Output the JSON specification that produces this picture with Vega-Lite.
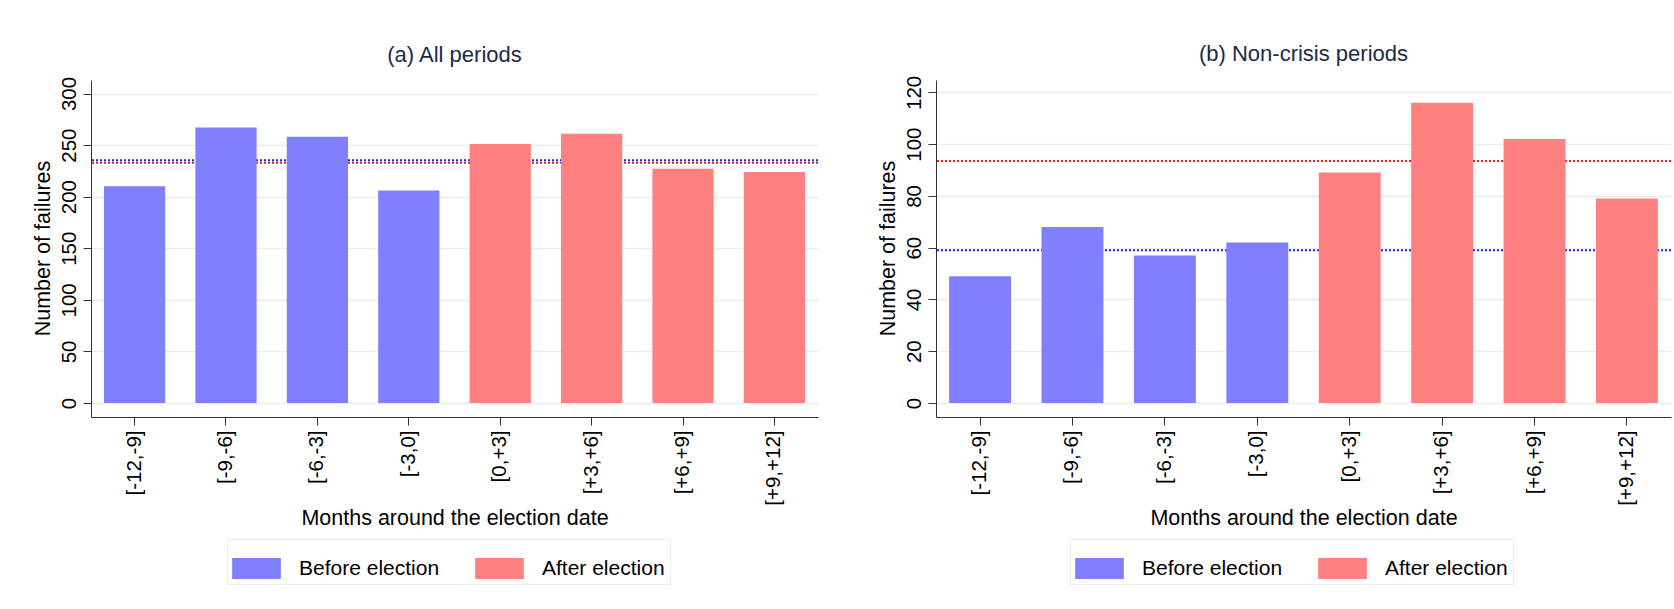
{
  "$schema": "https://vega.github.io/schema/vega-lite/v6.json",
  "padding": {"left": 32, "top": 43, "right": 2, "bottom": 5},
  "background": "white",
  "datasets": {
    "a": [
      {"bin": "[-12,-9]", "n": 210, "period": "Before election"},
      {"bin": "[-9,-6]", "n": 267, "period": "Before election"},
      {"bin": "[-6,-3]", "n": 258, "period": "Before election"},
      {"bin": "[-3,0]", "n": 206, "period": "Before election"},
      {"bin": "[0,+3]", "n": 251, "period": "After election"},
      {"bin": "[+3,+6]", "n": 261, "period": "After election"},
      {"bin": "[+6,+9]", "n": 227, "period": "After election"},
      {"bin": "[+9,+12]", "n": 224, "period": "After election"}
    ],
    "b": [
      {"bin": "[-12,-9]", "n": 49, "period": "Before election"},
      {"bin": "[-9,-6]", "n": 68, "period": "Before election"},
      {"bin": "[-6,-3]", "n": 57, "period": "Before election"},
      {"bin": "[-3,0]", "n": 62, "period": "Before election"},
      {"bin": "[0,+3]", "n": 89, "period": "After election"},
      {"bin": "[+3,+6]", "n": 116, "period": "After election"},
      {"bin": "[+6,+9]", "n": 102, "period": "After election"},
      {"bin": "[+9,+12]", "n": 79, "period": "After election"}
    ],
    "ma": [
      {"period": "Before election", "mean": 235.4},
      {"period": "After election", "mean": 232.8}
    ],
    "mb": [
      {"period": "Before election", "mean": 59.0},
      {"period": "After election", "mean": 93.5}
    ]
  },
  "bounds": "flush",
  "spacing": 118,
  "hconcat": [
    {
      "width": 727,
      "height": 337,
      "title": {"text": "(a) All periods", "frame": "group", "anchor": "middle", "baseline": "alphabetic", "offset": -8, "fontSize": 22, "fontWeight": "normal", "color": "#1c2b4a", "font": "Liberation Sans"},
      "layer": [
        {
          "data": {"name": "ma"},
          "transform": [{"filter": "datum.period === 'Before election'"}],
          "mark": {"type": "rule", "color": "#1a1aff", "strokeWidth": 2, "strokeDash": [2, 2]},
          "encoding": {"y": {"field": "mean", "type": "quantitative", "title": "Number of failures"}}
        },
        {
          "data": {"name": "ma"},
          "transform": [{"filter": "datum.period === 'After election'"}],
          "mark": {"type": "rule", "color": "#f0141e", "strokeWidth": 2, "strokeDash": [2, 2]},
          "encoding": {"y": {"field": "mean", "type": "quantitative", "title": "Number of failures"}}
        },
        {
          "data": {"name": "a"},
          "mark": {"type": "bar"},
          "encoding": {
            "x": {"field": "bin", "type": "nominal", "sort": null, "title": "Months around the election date",
                  "scale": {"paddingInner": 0.33, "paddingOuter": 0.142},
                  "axis": {"labelAngle": -90, "labelAlign": "right", "labelBaseline": "middle", "labelPadding": 5, "titleY": 107, "titleBaseline": "alphabetic"}},
            "y": {"field": "n", "type": "quantitative", "title": "Number of failures",
                  "scale": {"domain": [-13.6, 313.1], "nice": false, "zero": false},
                  "axis": {"values": [0, 50, 100, 150, 200, 250, 300], "labelAngle": -90, "labelAlign": "center", "labelBaseline": "alphabetic", "labelPadding": 8, "titleX": -48, "titleY": 168, "titleAngle": -90, "titleAlign": "center", "titleBaseline": "middle"}},
            "color": {"field": "period", "type": "nominal",
                      "scale": {"domain": ["Before election", "After election"], "range": ["#8080ff", "#ff8080"]},
                      "legend": {"orient": "none", "legendX": 136, "legendY": 459, "direction": "horizontal", "columns": 2, "title": null,
                                 "symbolType": "M-1,-0.431H1V0.431H-1Z", "symbolSize": 2372, "symbolStrokeWidth": 0, "symbolOpacity": 1,
                                 "labelFontSize": 21, "labelFont": "Liberation Sans", "labelColor": "#000", "labelOffset": 18, "columnPadding": 35, "padding": 5,
                                 "strokeColor": "#eeeeee", "fillColor": "white", "labelLimit": 400}}
          }
        }
      ]
    },
    {
      "width": 735,
      "height": 337,
      "title": {"text": "(b) Non-crisis periods", "frame": "group", "anchor": "middle", "baseline": "alphabetic", "offset": -8, "fontSize": 22, "fontWeight": "normal", "color": "#1c2b4a", "font": "Liberation Sans"},
      "layer": [
        {
          "data": {"name": "mb"},
          "transform": [{"filter": "datum.period === 'Before election'"}],
          "mark": {"type": "rule", "color": "#1a1aff", "strokeWidth": 2, "strokeDash": [2, 2]},
          "encoding": {"y": {"field": "mean", "type": "quantitative", "title": "Number of failures"}}
        },
        {
          "data": {"name": "mb"},
          "transform": [{"filter": "datum.period === 'After election'"}],
          "mark": {"type": "rule", "color": "#f0141e", "strokeWidth": 2, "strokeDash": [2, 2]},
          "encoding": {"y": {"field": "mean", "type": "quantitative", "title": "Number of failures"}}
        },
        {
          "data": {"name": "b"},
          "mark": {"type": "bar"},
          "encoding": {
            "x": {"field": "bin", "type": "nominal", "sort": null, "title": "Months around the election date",
                  "scale": {"paddingInner": 0.33, "paddingOuter": 0.142},
                  "axis": {"labelAngle": -90, "labelAlign": "right", "labelBaseline": "middle", "labelPadding": 5, "titleY": 107, "titleBaseline": "alphabetic"}},
            "y": {"field": "n", "type": "quantitative", "title": "Number of failures",
                  "scale": {"domain": [-5.41, 124.76], "nice": false, "zero": false},
                  "axis": {"values": [0, 20, 40, 60, 80, 100, 120], "labelAngle": -90, "labelAlign": "center", "labelBaseline": "alphabetic", "labelPadding": 8, "titleX": -48, "titleY": 168, "titleAngle": -90, "titleAlign": "center", "titleBaseline": "middle"}},
            "color": {"field": "period", "type": "nominal",
                      "scale": {"domain": ["Before election", "After election"], "range": ["#8080ff", "#ff8080"]},
                      "legend": {"orient": "none", "legendX": 134, "legendY": 459, "direction": "horizontal", "columns": 2, "title": null,
                                 "symbolType": "M-1,-0.431H1V0.431H-1Z", "symbolSize": 2372, "symbolStrokeWidth": 0, "symbolOpacity": 1,
                                 "labelFontSize": 21, "labelFont": "Liberation Sans", "labelColor": "#000", "labelOffset": 18, "columnPadding": 35, "padding": 5,
                                 "strokeColor": "#eeeeee", "fillColor": "white", "labelLimit": 400}}
          }
        }
      ]
    }
  ],
  "resolve": {"scale": {"y": "independent", "x": "independent", "color": "independent"}, "legend": {"color": "independent"}},
  "config": {
    "font": "Liberation Sans",
    "view": {"stroke": null},
    "axis": {"labelFont": "Liberation Sans", "titleFont": "Liberation Sans", "labelFontSize": 20.5, "titleFontSize": 21.5, "labelColor": "#000", "titleColor": "#000", "titleFontWeight": "normal", "domainColor": "#333", "tickColor": "#333", "tickSize": 8, "gridColor": "#ececec", "gridWidth": 1.5, "labelOverlap": false, "labelFlush": false},
    "axisX": {"grid": false},
    "axisY": {"grid": true}
  }
}
